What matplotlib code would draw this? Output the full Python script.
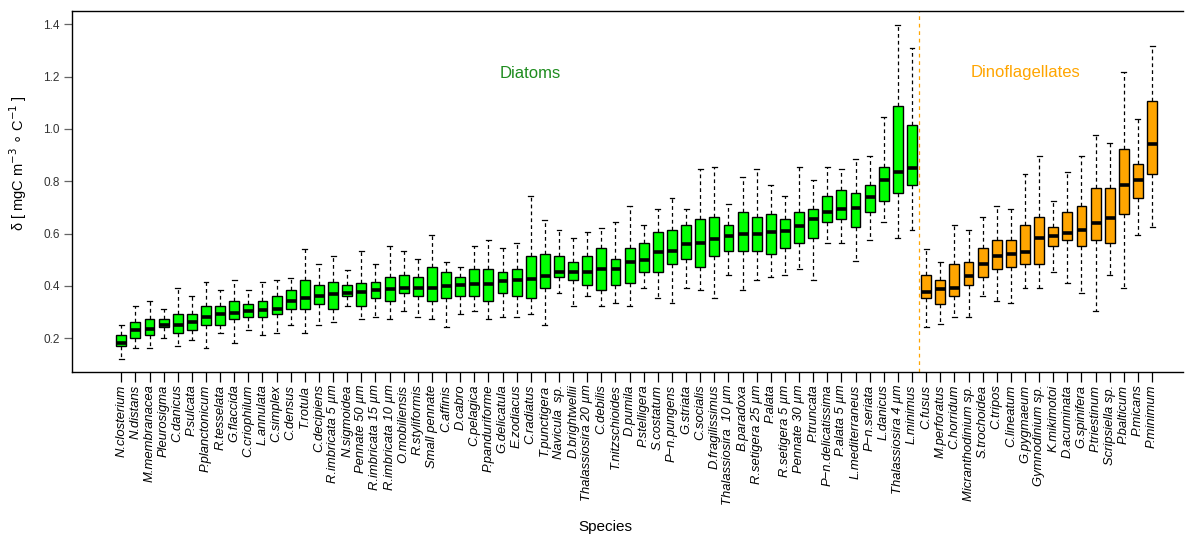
import matplotlib
matplotlib.use("Agg")
import matplotlib.pyplot as plt

plt.rcParams['font.family'] = ['Liberation Sans', 'DejaVu Sans']

# ================= DATA =================
diatoms = [
    "N.closterium", "N.distans", "M.membranacea", "Pleurosigma", "C.danicus",
    "P.sulcata", "P.planctonicum", "R.tesselata", "G.flaccida", "C.criophilum",
    "L.annulata", "C.simplex", "C.densus", "T.rotula", "C.decipiens",
    "R.imbricata 5 µm", "N.sigmoidea", "Pennate 50 µm", "R.imbricata 15 µm",
    "R.imbricata 10 µm", "O.mobiliensis", "R.styliformis", "Small pennate",
    "C.affinis", "D.cabro", "C.pelagica", "P.panduriforme", "G.delicatula",
    "E.zodiacus", "C.radiatus", "T.punctigera", "Navicula  sp.", "D.brightwellii",
    "Thalassiosira 20 µm", "C.debilis", "T.nitzschioides", "D.pumila",
    "P.stelligera", "S.costatum", "P\u2212n.pungens", "G.striata", "C.socialis",
    "D.fragilissimus", "Thalassiosira  10 µm", "B.paradoxa", "R.setigera 25 µm",
    "P.alata", "R.setigera 5 µm", "Pennate 30 µm", "P.truncata",
    "P\u2212n.delicatissima", "P.alata 5 µm", "L.mediterraneus", "P\u2212n.seriata",
    "L.danicus", "Thalassiosira 4 µm", "L.minimus",
]
dinos = [
    "C.fusus", "M.perforatus", "C.horridum", "Micranthodinium sp.", "S.trochoidea",
    "C.tripos", "C.lineatum", "G.pygmaeum", "Gymnodinium sp.", "K.mikimotoi",
    "D.acuminata", "G.spinifera", "P.triestinum", "Scripsiella sp.", "P.balticum",
    "P.micans", "P.minimum",
]

# whisker low, q1, median, q3, whisker high
diatom_lo = [0.121, 0.162, 0.162, 0.202, 0.172, 0.192, 0.162, 0.221, 0.182, 0.232,
             0.213, 0.221, 0.252, 0.221, 0.252, 0.262, 0.322, 0.273, 0.283, 0.273,
             0.303, 0.283, 0.273, 0.242, 0.293, 0.303, 0.273, 0.283, 0.283, 0.293,
             0.252, 0.373, 0.323, 0.363, 0.323, 0.334, 0.323, 0.393, 0.353, 0.334,
             0.393, 0.383, 0.353, 0.443, 0.383, 0.423, 0.433, 0.443, 0.464, 0.423,
             0.564, 0.564, 0.494, 0.574, 0.645, 0.584, 0.615]
diatom_q1 = [0.172, 0.202, 0.211, 0.242, 0.221, 0.232, 0.252, 0.252, 0.273, 0.283,
             0.283, 0.292, 0.312, 0.312, 0.332, 0.312, 0.363, 0.322, 0.353, 0.343,
             0.373, 0.363, 0.343, 0.353, 0.363, 0.363, 0.343, 0.373, 0.363, 0.353,
             0.393, 0.433, 0.423, 0.403, 0.383, 0.403, 0.413, 0.453, 0.453, 0.484,
             0.504, 0.474, 0.514, 0.534, 0.534, 0.534, 0.523, 0.544, 0.564, 0.584,
             0.644, 0.655, 0.624, 0.684, 0.725, 0.755, 0.785]
diatom_med = [0.181, 0.233, 0.237, 0.252, 0.252, 0.262, 0.283, 0.293, 0.298, 0.303,
              0.308, 0.313, 0.343, 0.353, 0.363, 0.368, 0.373, 0.378, 0.383, 0.388,
              0.393, 0.393, 0.393, 0.399, 0.404, 0.409, 0.409, 0.419, 0.423, 0.428,
              0.438, 0.453, 0.453, 0.453, 0.464, 0.464, 0.493, 0.499, 0.529, 0.534,
              0.559, 0.564, 0.579, 0.590, 0.600, 0.600, 0.605, 0.610, 0.629, 0.655,
              0.684, 0.694, 0.699, 0.740, 0.805, 0.835, 0.851]
diatom_q3 = [0.211, 0.262, 0.273, 0.273, 0.292, 0.292, 0.322, 0.322, 0.343, 0.332,
             0.343, 0.363, 0.383, 0.424, 0.403, 0.414, 0.403, 0.412, 0.414, 0.433,
             0.443, 0.433, 0.474, 0.453, 0.433, 0.464, 0.464, 0.453, 0.464, 0.513,
             0.523, 0.513, 0.493, 0.513, 0.544, 0.503, 0.544, 0.564, 0.605, 0.614,
             0.634, 0.655, 0.665, 0.634, 0.684, 0.665, 0.675, 0.655, 0.684, 0.694,
             0.745, 0.766, 0.754, 0.785, 0.855, 1.087, 1.016]
diatom_hi = [0.252, 0.322, 0.343, 0.313, 0.393, 0.363, 0.414, 0.383, 0.424, 0.383,
             0.414, 0.424, 0.432, 0.542, 0.483, 0.513, 0.462, 0.534, 0.484, 0.554,
             0.534, 0.504, 0.594, 0.493, 0.474, 0.554, 0.574, 0.544, 0.564, 0.744,
             0.653, 0.615, 0.584, 0.605, 0.623, 0.646, 0.704, 0.634, 0.695, 0.735,
             0.695, 0.846, 0.856, 0.714, 0.815, 0.846, 0.785, 0.745, 0.856, 0.806,
             0.856, 0.846, 0.885, 0.895, 1.047, 1.398, 1.308]

dino_lo = [0.242, 0.253, 0.283, 0.283, 0.363, 0.343, 0.334, 0.393, 0.393, 0.453,
           0.412, 0.373, 0.303, 0.443, 0.393, 0.594, 0.624]
dino_q1 = [0.353, 0.332, 0.363, 0.403, 0.433, 0.464, 0.474, 0.483, 0.483, 0.554,
           0.574, 0.554, 0.574, 0.563, 0.675, 0.735, 0.827]
dino_med = [0.378, 0.388, 0.393, 0.439, 0.484, 0.513, 0.523, 0.529, 0.584, 0.590,
            0.604, 0.614, 0.639, 0.660, 0.785, 0.805, 0.941]
dino_q3 = [0.443, 0.423, 0.483, 0.493, 0.544, 0.574, 0.574, 0.633, 0.664, 0.624,
           0.684, 0.704, 0.774, 0.774, 0.925, 0.865, 1.107]
dino_hi = [0.542, 0.493, 0.633, 0.614, 0.665, 0.704, 0.694, 0.827, 0.897, 0.725,
           0.835, 0.897, 0.976, 0.946, 1.219, 1.038, 1.318]

yticks = [0.2, 0.4, 0.6, 0.8, 1.0, 1.2, 1.4]


# ================= BOX STATS =================
def make_stats(names, lo, q1, med, q3, hi):
    stats = []
    for i in range(len(names)):
        stats.append({"label": names[i], "whislo": lo[i], "q1": q1[i],
                      "med": med[i], "q3": q3[i], "whishi": hi[i], "fliers": []})
    return stats


def draw_group(ax, stats, positions, color):
    ax.bxp(stats, positions=positions, widths=0.7, capwidths=0.35,
           patch_artist=True, showfliers=False, manage_ticks=False,
           boxprops=dict(facecolor=color, edgecolor="black", linewidth=1.0),
           medianprops=dict(color="black", linewidth=2.6, solid_capstyle="butt"),
           whiskerprops=dict(color="black", linewidth=0.9, linestyle=(0, (3, 2.5))),
           capprops=dict(color="black", linewidth=0.9))


fig = plt.figure(figsize=(11.92, 5.34), dpi=100)
ax = fig.add_axes([72 / 1192, 1 - 372 / 534, (1183 - 72) / 1192, (372 - 11) / 534])

n_d = len(diatoms)
pos_d = list(range(1, n_d + 1))
pos_f = list(range(n_d + 1, n_d + len(dinos) + 1))

draw_group(ax, make_stats(diatoms, diatom_lo, diatom_q1, diatom_med, diatom_q3, diatom_hi),
           pos_d, "#00FF00")
draw_group(ax, make_stats(dinos, dino_lo, dino_q1, dino_med, dino_q3, dino_hi),
           pos_f, "#FFA500")

ax.axvline(n_d + 0.5, color="#FFA500", linestyle=(0, (3, 3)), linewidth=0.9)

ax.set_xlim(-2.49, 76.19)
ax.set_ylim(0.071, 1.451)

ax.set_xticks(pos_d + pos_f)
ax.set_xticklabels(diatoms + dinos, rotation=90, fontsize=9.4, style="italic",
                   va="top", ha="center")
ax.set_yticks(yticks)
ax.set_yticklabels([f"{v:.1f}" for v in yticks], fontsize=8.5, color="#333333")
ax.tick_params(axis="x", length=7, width=0.9, pad=2)
ax.tick_params(axis="y", length=6, width=0.9, color="#666666", pad=3)

ax.spines["right"].set_visible(False)
for s in ["left", "top", "bottom"]:
    ax.spines[s].set_linewidth(1.0)

ax.text(530 / 1192, 1 - 74 / 534, "Diatoms", transform=fig.transFigure,
        color="#1E8C1E", fontsize=12, ha="center", va="center")
ax.text(1026 / 1192, 1 - 73 / 534, "Dinoflagellates", transform=fig.transFigure,
        color="#FFA500", fontsize=12, ha="center", va="center")

fig.text(605 / 1192, 1 - 527 / 534, "Species", fontsize=11, ha="center", va="center")
fig.text(18 / 1192, 1 - 163 / 534,
         "\u03b4 [ mgC m$^{-3}$ $\\circ$ C$^{-1}$ ]",
         fontsize=10.5, rotation=90, ha="center", va="center")

fig.savefig("out.png", dpi=100)
